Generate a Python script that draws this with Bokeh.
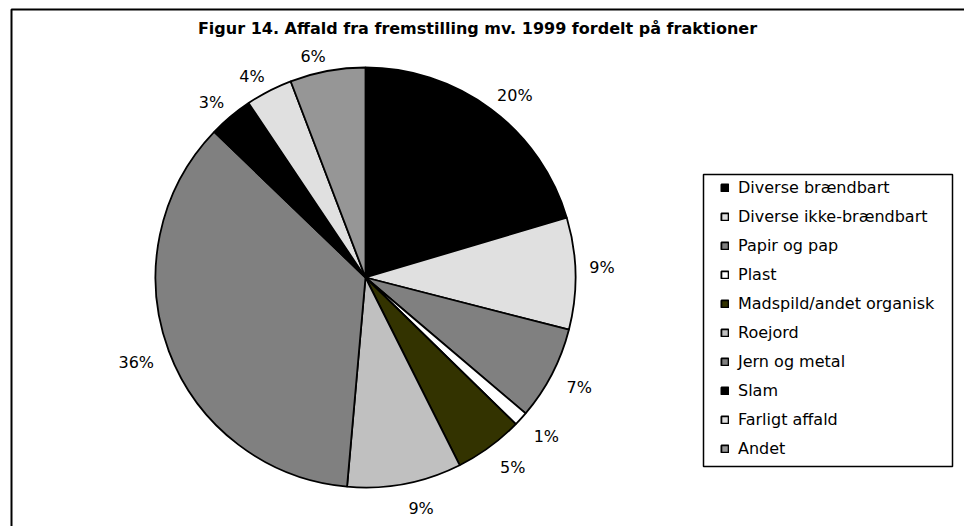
import math
from bokeh.plotting import figure
from bokeh.models import Range1d, BoxAnnotation, Legend, LegendItem, Label, ColumnDataSource
from bokeh.core.properties import value
from bokeh.embed import file_html
from bokeh.resources import INLINE

# ---- data ----
title_text = "Figur 14. Affald fra fremstilling mv. 1999 fordelt på fraktioner"
categories = ["Diverse brændbart", "Diverse ikke-brændbart", "Papir og pap", "Plast",
              "Madspild/andet organisk", "Roejord", "Jern og metal", "Slam",
              "Farligt affald", "Andet"]
shares = [20.4, 8.6, 7.2, 1.1, 5.3, 8.8, 35.8, 3.4, 3.6, 5.8]
colors = ["#000000", "#E0E0E0", "#808080", "#FFFFFF", "#333300",
          "#C0C0C0", "#808080", "#000000", "#E0E0E0", "#969696"]

# ---- layout (1 data unit = 1 px; y up, page y = H - data y) ----
W, H = 964, 526
CX, CY, R = 365, H - 277, 210
FONT = "DejaVu Sans"
HALF_TEXT_H = 6

total = sum(shares)
starts, ends, lx, ly, texts, aligns = [], [], [], [], [], []
cum = 0.0
for v in shares:
    a0 = cum / total * 2 * math.pi
    cum += v
    a1 = cum / total * 2 * math.pi
    # clockwise from 12 o'clock -> bokeh anticlockwise from +x
    starts.append(math.pi / 2 - a1)
    ends.append(math.pi / 2 - a0)
    mid = (a0 + a1) / 2
    s, c = math.sin(mid), math.cos(mid)
    d = 224 - 5 * c          # distance of the label corner nearest the pie
    lx.append(CX + d * s)
    ly.append(CY + d * c + (HALF_TEXT_H if c >= 0 else -HALF_TEXT_H))
    aligns.append("left" if s >= 0 else "right")
    texts.append(f"{round(v / total * 100)}%")

src = ColumnDataSource(dict(cat=categories, start=starts, end=ends, color=colors,
                            x=[CX] * len(shares), y=[CY] * len(shares)))
lab = ColumnDataSource(dict(x=lx, y=ly, t=texts, align=aligns))

p = figure(width=W, height=H, output_backend="svg", toolbar_location=None,
           x_range=Range1d(0, W), y_range=Range1d(0, H),
           min_border=0, min_border_left=0, min_border_right=0,
           min_border_top=0, min_border_bottom=0)
p.axis.visible = False
p.grid.visible = False
p.outline_line_color = None
p.background_fill_color = "white"
p.border_fill_color = "white"

# outer frame (top and left edges visible)
p.add_layout(BoxAnnotation(left=11, right=W + 20, top=H - 9, bottom=-20,
                           fill_alpha=0, line_color="black", line_alpha=1, line_width=2))

wedges = p.wedge(x="x", y="y", radius=R, start_angle="start", end_angle="end",
                 fill_color="color", line_color="black", line_width=1.8, source=src)

p.text(x="x", y="y", text="t", source=lab, text_align="align", text_baseline="middle",
       text_font=value(FONT), text_font_size="16px", text_color="black")

p.add_layout(Label(x=477, y=H - 28, text=title_text, text_align="center",
                   text_baseline="alphabetic", text_font=FONT, text_font_size="16px",
                   text_font_style="bold", text_color="black"))

# legend box
p.add_layout(BoxAnnotation(left=703, right=952, top=H - 174, bottom=H - 466,
                           fill_alpha=0, line_color="black", line_alpha=1, line_width=1.5))

items = [LegendItem(label=c, renderers=[wedges], index=i) for i, c in enumerate(categories)]
legend = Legend(items=items, location=(720, 68), glyph_width=9, glyph_height=9,
                label_text_font=FONT, label_text_font_size="16px", label_text_color="black",
                label_standoff=9, label_height=20, spacing=9, padding=0, margin=0,
                border_line_color=None, background_fill_alpha=0)
p.add_layout(legend, "center")

open("out.html", "w").write(file_html(p, INLINE))
